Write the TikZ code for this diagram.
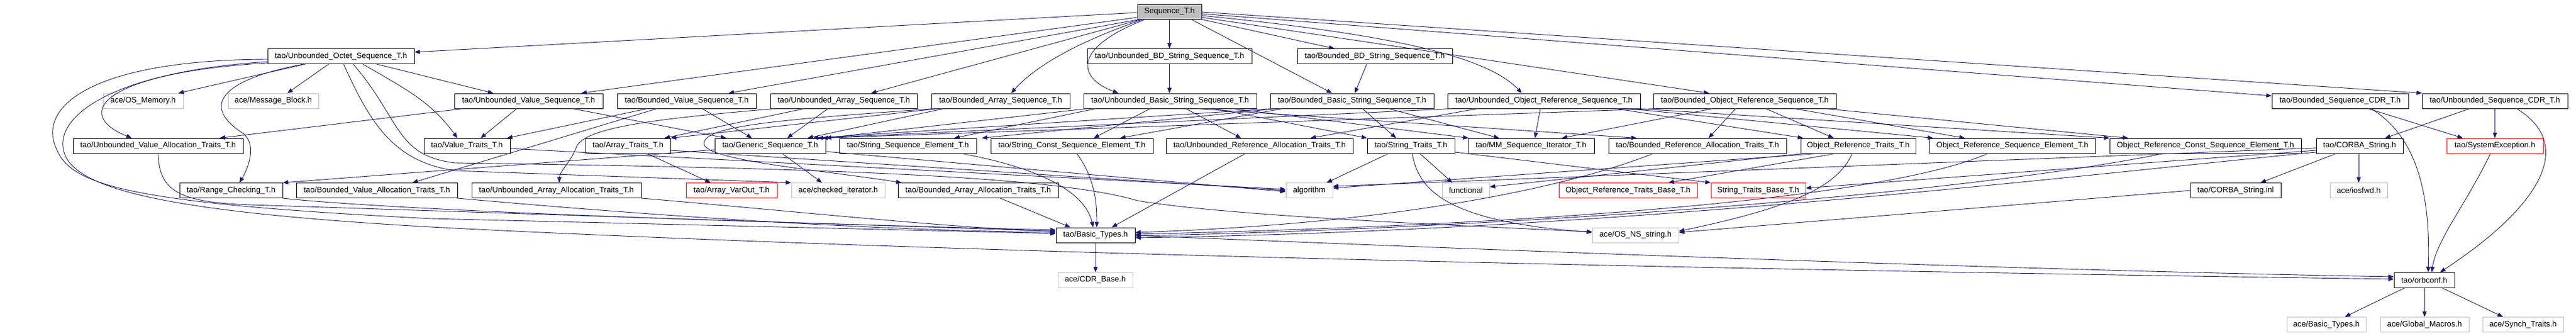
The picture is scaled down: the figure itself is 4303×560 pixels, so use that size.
\documentclass[tikz,border=0pt]{standalone}
\usepackage{fontspec}
\setmainfont{Liberation Sans}
\usetikzlibrary{arrows.meta}
\definecolor{edgeblue}{RGB}{25,25,112}
\definecolor{extgray}{RGB}{191,191,191}
\begin{document}
\begin{tikzpicture}[x=1pt,y=-1pt,
  box/.style={draw=black,line width=1pt,minimum height=25pt,inner sep=0pt,font=\fontsize{13.2pt}{15pt}\selectfont},
  extbox/.style={box,draw=extgray},
  redbox/.style={box,draw=red},
  rootbox/.style={box,fill=extgray},
  e/.style={draw=edgeblue,line width=0.9pt,-{Triangle[length=9pt,width=7pt]}}]
\useasboundingbox[fill=white] (0,0) rectangle (4303,560);
% row 0
\node[rootbox,minimum width=107pt] (S) at (1953.5,19.5) {Sequence\_T.h};
% row 1
\node[box,minimum width=245pt] (UOct) at (569.5,94) {tao/Unbounded\_Octet\_Sequence\_T.h};
\node[box,minimum width=275pt] (UBD) at (1953.5,94) {tao/Unbounded\_BD\_String\_Sequence\_T.h};
\node[box,minimum width=259pt] (BBD) at (2296.5,94) {tao/Bounded\_BD\_String\_Sequence\_T.h};
% row 2
\node[extbox,minimum width=134pt] (OSMem) at (239,168.5) {ace/OS\_Memory.h};
\node[extbox,minimum width=151pt] (MsgBlk) at (456.5,168.5) {ace/Message\_Block.h};
\node[box,minimum width=248pt] (UVS) at (883,168.5) {tao/Unbounded\_Value\_Sequence\_T.h};
\node[box,minimum width=232pt] (BVS) at (1147,168.5) {tao/Bounded\_Value\_Sequence\_T.h};
\node[box,minimum width=245pt] (UAS) at (1409.5,168.5) {tao/Unbounded\_Array\_Sequence\_T.h};
\node[box,minimum width=231pt] (BAS) at (1671.5,168.5) {tao/Bounded\_Array\_Sequence\_T.h};
\node[box,minimum width=289pt] (UBSS) at (1954.5,168.5) {tao/Unbounded\_Basic\_String\_Sequence\_T.h};
\node[box,minimum width=273pt] (BBSS) at (2258.5,168.5) {tao/Bounded\_Basic\_String\_Sequence\_T.h};
\node[box,minimum width=322pt] (UORS) at (2579,168.5) {tao/Unbounded\_Object\_Reference\_Sequence\_T.h};
\node[box,minimum width=305pt] (BORS) at (2914.5,168.5) {tao/Bounded\_Object\_Reference\_Sequence\_T.h};
\node[box,minimum width=228pt] (BCDR) at (3909,168.5) {tao/Bounded\_Sequence\_CDR\_T.h};
\node[box,minimum width=243pt] (UCDR) at (4167.5,168.5) {tao/Unbounded\_Sequence\_CDR\_T.h};
% row 3
\node[box,minimum width=284pt] (UVAT) at (264,243.5) {tao/Unbounded\_Value\_Allocation\_Traits\_T.h};
\node[box,minimum width=144pt] (ValTr) at (780,243.5) {tao/Value\_Traits\_T.h};
\node[box,minimum width=142pt] (ArrTr) at (1049,243.5) {tao/Array\_Traits\_T.h};
\node[box,minimum width=185pt] (Generic) at (1286.5,243.5) {tao/Generic\_Sequence\_T.h};
\node[box,minimum width=229pt] (SSE) at (1516.5,243.5) {tao/String\_Sequence\_Element\_T.h};
\node[box,minimum width=271pt] (SCSE) at (1790.5,243.5) {tao/String\_Const\_Sequence\_Element\_T.h};
\node[box,minimum width=312pt] (URAT) at (2104,243.5) {tao/Unbounded\_Reference\_Allocation\_Traits\_T.h};
\node[box,minimum width=146pt] (StrTr) at (2357,243.5) {tao/String\_Traits\_T.h};
\node[box,minimum width=211pt] (MM) at (2557.5,243.5) {tao/MM\_Sequence\_Iterator\_T.h};
\node[box,minimum width=297pt] (BRAT) at (2835.5,243.5) {tao/Bounded\_Reference\_Allocation\_Traits\_T.h};
\node[box,minimum width=192pt] (ORTr) at (3104,243.5) {Object\_Reference\_Traits\_T.h};
\node[box,minimum width=277pt] (ORSE) at (3361.5,243.5) {Object\_Reference\_Sequence\_Element\_T.h};
\node[box,minimum width=320pt] (ORCSE) at (3684,243.5) {Object\_Reference\_Const\_Sequence\_Element\_T.h};
\node[box,minimum width=145pt] (CStr) at (3941.5,243.5) {tao/CORBA\_String.h};
\node[redbox,minimum width=161pt] (SysExc) at (4167.5,243.5) {tao/SystemException.h};
% row 4
\node[box,minimum width=172pt] (Range) at (386,318) {tao/Range\_Checking\_T.h};
\node[box,minimum width=269pt] (BVAT) at (629.5,318) {tao/Bounded\_Value\_Allocation\_Traits\_T.h};
\node[box,minimum width=283pt] (UAAT) at (929.5,318) {tao/Unbounded\_Array\_Allocation\_Traits\_T.h};
\node[redbox,minimum width=152pt] (VarOut) at (1222,318) {tao/Array\_VarOut\_T.h};
\node[extbox,minimum width=156pt] (chkIt) at (1400,318) {ace/checked\_iterator.h};
\node[box,minimum width=268pt] (BAAT) at (1634,318) {tao/Bounded\_Array\_Allocation\_Traits\_T.h};
\node[extbox,minimum width=78pt] (algo) at (2187,318) {algorithm};
\node[extbox,minimum width=79pt] (func) at (2448.5,318) {functional};
\node[redbox,minimum width=231pt] (ORTB) at (2719.5,318) {Object\_Reference\_Traits\_Base\_T.h};
\node[redbox,minimum width=158pt] (STB) at (2937,318) {String\_Traits\_Base\_T.h};
\node[box,minimum width=151pt] (CStrInl) at (3734.5,318) {tao/CORBA\_String.inl};
\node[extbox,minimum width=96pt] (iosfwd) at (3940,318) {ace/iosfwd.h};
% row 5
\node[box,minimum width=132pt] (BT) at (1830,392.5) {tao/Basic\_Types.h};
\node[extbox,minimum width=144pt] (OSNS) at (2732,392.5) {ace/OS\_NS\_string.h};
% row 6
\node[extbox,minimum width=125pt] (CDR) at (1829.5,467.5) {ace/CDR\_Base.h};
\node[box,minimum width=101pt] (orbconf) at (4049.5,467.5) {tao/orbconf.h};
% row 7
\node[extbox,minimum width=132pt] (aceBT) at (3886,542) {ace/Basic\_Types.h};
\node[extbox,minimum width=148pt] (GM) at (4050,542) {ace/Global\_Macros.h};
\node[extbox,minimum width=135pt] (ST) at (4214.5,542) {ace/Synch\_Traits.h};

% ---- edges from Sequence_T.h
\draw[e] (S.west |- 0,21) -- (UOct.east |- 0,87);
\draw[e] (S.west |- 0,29) -- (UVS.north -| 971,0);
\draw[e] (S.south -| 1903,0) -- (BVS.north -| 1217,0);
\draw[e] (S.south -| 1906,0) -- (UAS.north -| 1455,0);
\draw[e] (S.south -| 1909,0) .. controls (1800,70) and (1730,110) .. (BAS.north -| 1689,0);
\draw[e] (S.south -| 1913,0) .. controls (1790,80) and (1800,130) .. (UBSS.north -| 1868,0);
\draw[e] (S.south) -- (UBD.north);
\draw[e] (S.south east) -- (BBD.north -| 2229,0);
\draw[e] (S.south -| 1990,0) -- (BBSS.north -| 2225,0);
\draw[e] (S.east |- 0,26) .. controls (2300,55) and (2480,90) .. (UORS.north -| 2542,0);
\draw[e] (S.east |- 0,29) -- (BORS.north -| 2855,0);
\draw[e] (S.east |- 0,23) -- (BCDR.west |- 0,160);
\draw[e] (S.east |- 0,20) -- (UCDR.north west);
% ---- Unbounded_Octet
\draw[e] (UOct.south -| 510,0) -- (OSMem.north -| 298,0);
\draw[e] (UOct.south -| 549,0) -- (MsgBlk.north -| 480,0);
\draw[e] (UOct.west |- 0,105) .. controls (170,122) and (120,190) .. (UVAT.north -| 220,0);
\draw[e] (UOct.south -| 507,0) .. controls (360,135) and (340,180) .. (405,222) .. controls (430,240) and (415,280) .. (Range.north -| 400,0);
\draw[e] (UOct.south -| 629,0) -- (UVS.north -| 824,0);
\draw[e] (UOct.south -| 606,0) .. controls (680,150) and (720,170) .. (ValTr.north -| 764,0);
\draw[e] (UOct.west |- 0,99) .. controls (150,100) and (60,180) .. (95,250) .. controls (120,310) and (220,340) .. (720,365) -- (BT.west |- 0,390);
\draw[e] (UOct.west |- 0,103) .. controls (180,120) and (80,200) .. (110,262) .. controls (140,320) and (300,355) .. (720,379) .. controls (1600,425) and (3000,452) .. (orbconf.west |- 0,466);
\draw[e] (UOct.south -| 574,0) .. controls (620,210) and (660,270) .. (760,285) -- (chkIt.north west);
\draw[e] (UOct.south -| 590,0) .. controls (670,200) and (660,260) .. (760,272) .. controls (1300,280) and (1750,290) .. (1900,335) .. controls (2050,360) and (2400,375) .. (OSNS.west |- 0,387);
% ---- BD strings
\draw[e] (UBD.south) -- (UBSS.north -| 1953.5,0);
\draw[e] (BBD.south -| 2283,0) -- (BBSS.north -| 2263,0);
% ---- value / array sequences
\draw[e] (UVS.south -| 773,0) -- (UVAT.north -| 367,0);
\draw[e] (UVS.south -| 863,0) -- (ValTr.north -| 803,0);
\draw[e] (UVS.south -| 957,0) -- (Generic.north -| 1213,0);
\draw[e] (BVS.south -| 1097,0) -- (BVAT.north -| 689,0);
\draw[e] (BVS.south -| 1081,0) -- (ValTr.north -| 847,0);
\draw[e] (BVS.south -| 1173,0) -- (Generic.north -| 1256,0);
\draw[e] (UAS.south -| 1293,0) .. controls (1100,198) and (978,212) .. (963,245) .. controls (953,272) and (935,285) .. (UAAT.north -| 934,0);
\draw[e] (UAS.south -| 1343,0) -- (ArrTr.north -| 1110,0);
\draw[e] (UAS.south -| 1383,0) -- (Generic.north -| 1315,0);
\draw[e] (BAS.south -| 1560,0) .. controls (1300,200) and (1175,210) .. (1176,240) .. controls (1177,268) and (1380,285) .. (BAAT.north -| 1506,0);
\draw[e] (BAS.south -| 1566,0) -- (ArrTr.north east);
\draw[e] (BAS.south -| 1576,0) -- (Generic.north -| 1349,0);
% ---- string sequences
\draw[e] (UBSS.south -| 1981,0) -- (URAT.north -| 2073,0);
\draw[e] (UBSS.south -| 2029,0) -- (StrTr.north west);
\draw[e] (UBSS.south -| 1815,0) -- (Generic.north east);
\draw[e] (UBSS.south -| 1830,0) -- (SSE.north -| 1594,0);
\draw[e] (UBSS.south -| 1921,0) -- (SCSE.north -| 1827,0);
\draw[e] (UBSS.south -| 2060,0) -- (MM.north -| 2453,0);
\draw[e] (UBSS.south -| 2000,0) -- (BRAT.north -| 2734,0);
\draw[e] (BBSS.south -| 2276,0) -- (StrTr.north -| 2332,0);
\draw[e] (BBSS.south -| 2320,0) -- (MM.north -| 2504,0);
\draw[e] (BBSS.south -| 2125,0) -- (Generic.north -| 1358,0);
\draw[e] (BBSS.south -| 2132,0) -- (SSE.north -| 1640,0);
\draw[e] (BBSS.south -| 2142,0) -- (SCSE.north -| 1871,0);
% ---- object reference sequences
\draw[e] (UORS.south -| 2468,0) -- (URAT.north -| 2189,0);
\draw[e] (UORS.south -| 2573,0) -- (MM.north -| 2564,0);
\draw[e] (UORS.south -| 2700,0) -- (ORTr.north -| 3012,0);
\draw[e] (UORS.south -| 2720,0) -- (ORSE.north -| 3229,0);
\draw[e] (UORS.south -| 2736,0) -- (ORCSE.north west);
\draw[e] (UORS.south -| 2425,0) -- (Generic.north -| 1366,0);
\draw[e] (BORS.south -| 2899,0) -- (BRAT.north -| 2854,0);
\draw[e] (BORS.south -| 2950,0) -- (ORTr.north -| 3063,0);
\draw[e] (BORS.south -| 2998,0) -- (ORSE.north -| 3282,0);
\draw[e] (BORS.south -| 3050,0) -- (ORCSE.north -| 3555,0);
\draw[e] (BORS.south -| 2860,0) -- (MM.north -| 2609,0);
\draw[e] (BORS.south -| 2766,0) -- (Generic.north -| 1374,0);
% ---- row 3 outgoing
\draw[e] (UVAT.south) .. controls (266,320) and (300,338) .. (420,342) -- (BT.west |- 0,386);
\draw[e] (ValTr.east |- 0,248) -- (algo.west |- 0,316);
\draw[e] (ArrTr.south -| 1081,0) -- (VarOut.north -| 1187,0);
\draw[e] (ArrTr.east |- 0,251) -- (algo.west |- 0,318);
\draw[e] (Generic.west |- 0,250) -- (Range.north east);
\draw[e] (Generic.south -| 1307,0) -- (chkIt.north -| 1373,0);
\draw[e] (Generic.east |- 0,253) -- (algo.west |- 0,320);
\draw[e] (SSE.south -| 1607,0) .. controls (1760,285) and (1815,330) .. (BT.north -| 1826,0);
\draw[e] (SCSE.south -| 1799,0) .. controls (1830,300) and (1832,340) .. (BT.north -| 1832,0);
\draw[e] (URAT.south -| 2080,0) -- (BT.north -| 1857,0);
\draw[e] (StrTr.south -| 2319,0) -- (algo.north -| 2216,0);
\draw[e] (StrTr.south -| 2372,0) -- (func.north -| 2426,0);
\draw[e] (StrTr.south -| 2359,0) .. controls (2370,320) and (2420,370) .. (OSNS.west |- 0,388);
\draw[e] (StrTr.east |- 0,254) -- (STB.north west);
\draw[e] (BRAT.south -| 2761,0) .. controls (2600,320) and (2300,375) .. (BT.east |- 0,388);
\draw[e] (ORTr.south -| 3065,0) -- (ORTB.north -| 2787,0);
\draw[e] (ORTr.south -| 3010,0) -- (func.east |- 0,312);
\draw[e] (ORTr.south -| 3035,0) -- (algo.east |- 0,314);
\draw[e] (ORTr.south -| 3094,0) .. controls (3070,310) and (3000,345) .. (OSNS.east |- 0,386);
\draw[e] (ORSE.south -| 3320,0) .. controls (3150,330) and (2600,375) .. (BT.east |- 0,391);
\draw[e] (ORCSE.south -| 3613,0) .. controls (3300,320) and (2600,378) .. (BT.east |- 0,394);
\draw[e] (CStr.west |- 0,254) .. controls (3400,300) and (2700,385) .. (BT.east |- 0,397);
\draw[e] (CStr.west |- 0,251) -- (STB.east |- 0,314);
\draw[e] (CStr.west |- 0,247) -- (algo.east |- 0,311);
\draw[e] (CStr.south -| 3940,0) -- (iosfwd.north);
\draw[e] (CStr.south -| 3902,0) -- (CStrInl.north -| 3776,0);
\draw[e] (CStrInl.west |- 0,318) -- (OSNS.east |- 0,388);
% ---- row 4 outgoing
\draw[e] (Range.south east) .. controls (600,345) and (1000,365) .. (BT.west |- 0,384);
\draw[e] (BVAT.south east) .. controls (1000,352) and (1400,384) .. (BT.west |- 0,388);
\draw[e] (UAAT.south east) .. controls (1300,350) and (1600,382) .. (BT.west |- 0,386);
\draw[e] (BAAT.south -| 1671,0) -- (BT.north -| 1788,0);
% ---- CDR headers
\draw[e] (BCDR.south -| 3956,0) -- (SysExc.north -| 4114,0);
\draw[e] (BCDR.south -| 3961,0) .. controls (4040,230) and (4060,330) .. (orbconf.north -| 4056,0);
\draw[e] (UCDR.south -| 4125,0) -- (CStr.north -| 3984,0);
\draw[e] (UCDR.south) -- (SysExc.north);
\draw[e] (UCDR.south -| 4204,0) .. controls (4300,240) and (4250,340) .. (orbconf.north -| 4076,0);
\draw[e] (SysExc.south -| 4160,0) .. controls (4120,340) and (4070,400) .. (orbconf.north -| 4062,0);
% ---- bottom
\draw[e] (BT.south) -- (CDR.north -| 1830,0);
\draw[e] (BT.east |- 0,393) .. controls (2500,418) and (3400,452) .. (orbconf.west |- 0,462);
\draw[e] (orbconf.south -| 4017,0) -- (aceBT.north -| 3917,0);
\draw[e] (orbconf.south -| 4050,0) -- (GM.north);
\draw[e] (orbconf.south -| 4079,0) -- (ST.north -| 4181,0);
\end{tikzpicture}
\end{document}
